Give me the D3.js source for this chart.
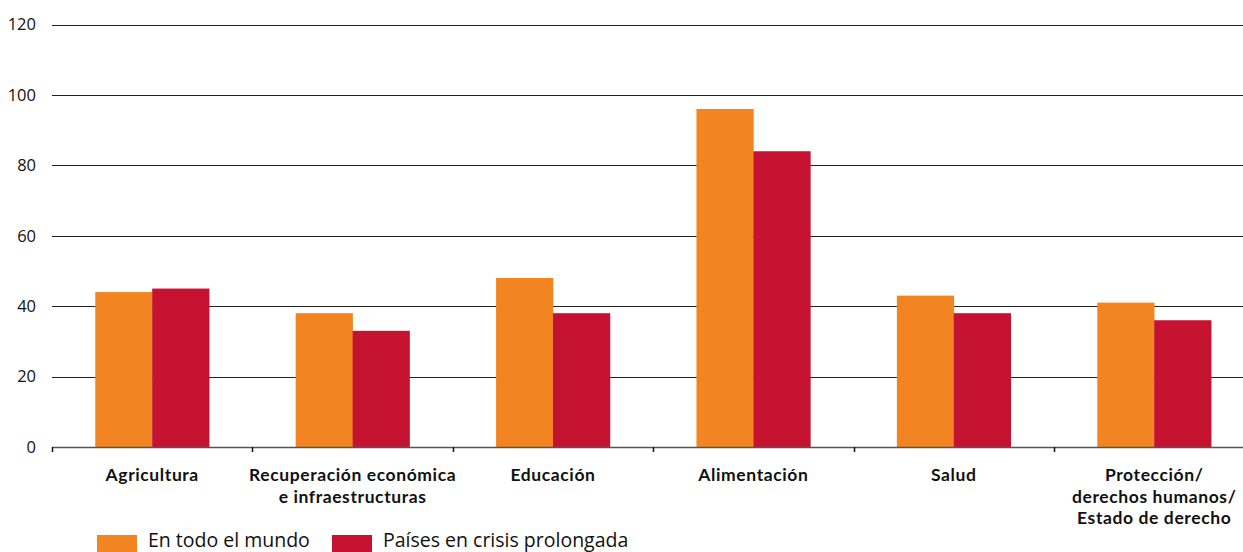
<!DOCTYPE html>
<html>
<head>
<meta charset="utf-8">
<script src="https://cdn.jsdelivr.net/npm/d3@7"></script>
<style>
  body { margin: 0; background: #fff; }
  svg { display: block; font-family: "Open Sans", sans-serif; }
</style>
</head>
<body>
<div id="chart"></div>
<script>
const categories = [
  ["Agricultura"],
  ["Recuperación económica", "e infraestructuras"],
  ["Educación"],
  ["Alimentación"],
  ["Salud"],
  ["Protección/", "derechos humanos/", "Estado de derecho"]
];
const seriesNames = ["En todo el mundo", "Países en crisis prolongada"];
const mundo = [44, 38, 48, 96, 43, 41];
const crisis = [45, 33, 38, 84, 38, 36];
const yTicks = [0, 20, 40, 60, 80, 100, 120];

const colors = ["#f28522", "#c41230"];

function drawChart() {
  const width = 1243;
  const height = 552;
  const left = 52;
  const step = 200.4;

  const svg = d3.select("#chart").append("svg")
    .attr("width", width)
    .attr("height", height);

  const keys = categories.map((d, i) => i);
  const x = d3.scaleBand()
    .domain(keys)
    .range([left, left + step * keys.length])
    .padding(0);

  const xInner = d3.scaleBand()
    .domain([0, 1])
    .range([0, x.bandwidth()])
    .paddingInner(0)
    .paddingOuter(0.76);

  const y = d3.scaleLinear()
    .domain([0, 120])
    .range([447, 24.5]);

  // gridlines
  svg.append("g")
    .selectAll("line")
    .data(yTicks.filter(d => d > 0))
    .join("line")
      .attr("x1", left)
      .attr("x2", width)
      .attr("y1", d => Math.round(y(d)) + 0.5)
      .attr("y2", d => Math.round(y(d)) + 0.5)
      .attr("stroke", "#222")
      .attr("stroke-width", 1.2);

  // y labels
  svg.append("g")
    .style("font-size", "16.5px")
    .attr("text-anchor", "end")
    .selectAll("text")
    .data(yTicks)
    .join("text")
      .attr("x", 36)
      .attr("y", d => y(d))
      .attr("dy", "0.35em")
      .attr("fill", "#111")
      .text(d => d);

  // bars
  const rows = keys.map(i => [mundo[i], crisis[i]]);
  svg.append("g")
    .selectAll("g")
    .data(rows)
    .join("g")
      .attr("transform", (d, i) => `translate(${x(i)},0)`)
    .selectAll("rect")
    .data(d => d)
    .join("rect")
      .attr("x", (d, j) => xInner(j))
      .attr("width", xInner.bandwidth() + 0.3)
      .attr("y", d => y(d))
      .attr("height", d => y(0) - y(d))
      .attr("fill", (d, j) => colors[j]);

  // x axis
  const axis = svg.append("g");
  axis.append("line")
    .attr("x1", left)
    .attr("x2", width)
    .attr("y1", 447.5)
    .attr("y2", 447.5)
    .attr("stroke", "#555")
    .attr("stroke-width", 1.4);
  axis.selectAll(".tick")
    .data(keys)
    .join("line")
      .attr("class", "tick")
      .attr("x1", d => Math.round(x(d)) + 0.5)
      .attr("x2", d => Math.round(x(d)) + 0.5)
      .attr("y1", 447)
      .attr("y2", 452)
      .attr("stroke", "#111")
      .attr("stroke-width", 1.5);

  // category labels, one text per line
  const labelLines = categories.flatMap((lines, i) =>
    lines.map((t, j) => ({t, i, j})));
  svg.append("g")
    .style("font-family", "Lato, sans-serif")
    .style("font-size", "17.5px")
    .style("font-weight", "bold")
    .style("letter-spacing", "0.6px")
    .attr("text-anchor", "middle")
    .selectAll("text")
    .data(labelLines)
    .join("text")
      .attr("fill", "#111")
      .attr("x", d => x(d.i) + x.bandwidth() / 2)
      .attr("y", d => 481 + d.j * 21.5)
      .text(d => d.t);

  // legend
  const legendX = [97, 332];
  const legend = svg.append("g")
    .selectAll("g")
    .data(seriesNames)
    .join("g")
      .attr("transform", (d, i) => `translate(${legendX[i]},535)`);
  legend.append("rect")
    .attr("width", 40)
    .attr("height", 17)
    .attr("fill", (d, i) => colors[i]);
  legend.append("text")
    .attr("x", 51)
    .attr("y", 12)
    .style("font-size", "19.5px")
    .attr("fill", "#111")
    .text(d => d);

  return svg.node();
}

drawChart();
</script>
</body>
</html>
